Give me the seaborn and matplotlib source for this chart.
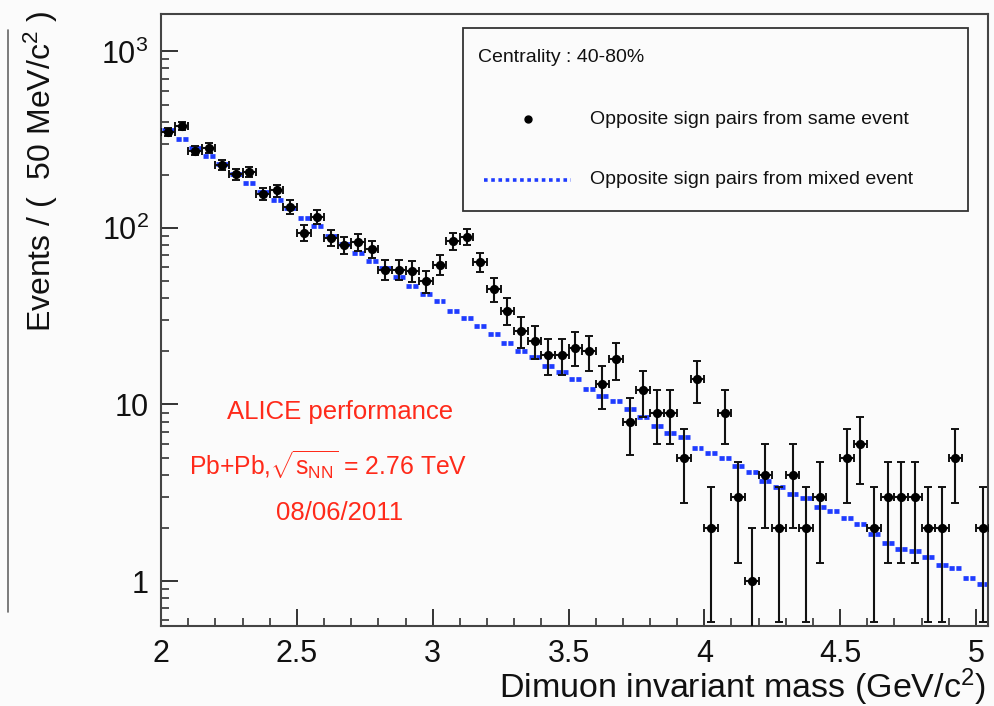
import numpy as np
import matplotlib
matplotlib.use("Agg")
import matplotlib.pyplot as plt
import seaborn as sns
from matplotlib.ticker import FixedLocator, FixedFormatter, MultipleLocator, LogLocator, NullFormatter
from matplotlib.patches import Rectangle
from matplotlib.lines import Line2D

# ---------------- data (50 MeV bins, centres) ----------------
mass = np.arange(2.025, 5.05, 0.05)

same_event = [350, 378, 274, 284, 228, 201, 208, 156, 163, 132,
              94, 116, 88, 80, 83, 76, 58, 58, 57, 50,
              62, 84, 89, 64, 45, 34, 26, 23, 19, 19,
              21, 20, 13, 18, 8, 12, 9, 9, 5, 14,
              2, 9, 3, 1, 4, 2, 4, 2, 3, 0,
              5, 6, 2, 3, 3, 3, 2, 2, 5, 0,
              2]

mixed_event = [359, 318, 283, 256, 230, 202, 179, 159, 144, 129,
               114, 102, 90, 81, 72.4, 65, 59, 52.6, 47, 42.5,
               38.3, 34, 31, 28, 25, 22.4, 20.2, 18.5, 16.6, 15.3,
               13.9, 12.3, 11.2, 10.4, 9.4, 8.5, 7.6, 6.9, 6.5, 5.7,
               5.3, 5.0, 4.47, 4.13, 3.69, 3.4, 3.11, 2.95, 2.64, 2.49,
               2.26, 2.1, 1.84, 1.65, 1.52, 1.47, 1.37, 1.23, 1.18, 1.04,
               0.96]

y_ticks = [1, 10, 100, 1000]
y_tick_labels = ["1", "10", r"$10^{2}$", r"$10^{3}$"]
x_ticks = [2, 2.5, 3, 3.5, 4, 4.5, 5]
x_tick_labels = ["2", "2.5", "3", "3.5", "4", "4.5", "5"]

legend_title = "Centrality : 40-80%"
label_same = "Opposite sign pairs from same event"
label_mixed = "Opposite sign pairs from mixed event"
red_lines = ["ALICE performance",
             r"Pb+Pb,$\sqrt{\mathrm{s}_{\mathrm{NN}}}$ = 2.76 TeV",
             "08/06/2011"]

# ---------------- style ----------------
sns.set_theme(style="ticks")
plt.rcParams["font.family"] = ["Liberation Sans", "DejaVu Sans"]
plt.rcParams["mathtext.fontset"] = "custom"
plt.rcParams["mathtext.rm"] = "Liberation Sans"
plt.rcParams["mathtext.it"] = "Liberation Sans:italic"
plt.rcParams["mathtext.bf"] = "Liberation Sans:bold"

fig = plt.figure(figsize=(9.95, 7.06), dpi=100)
fig.patch.set_facecolor("#fbfbfb")
ax = fig.add_axes([0.162, 0.1133, 0.831, 0.867])
ax.set_facecolor("#fbfbfb")

x = np.asarray(mass)
y = np.asarray(same_event, dtype=float)
ymask = np.where(y > 0, y, np.nan)
err = np.sqrt(y)
lower = np.minimum(err, y * 0.999)
blue = "#1f3cff"

# mixed event: dashed horizontal histogram segments
ax.hlines(mixed_event, x - 0.022, x + 0.022, colors=blue,
          linestyles=(0, (1.1, 0.35)), linewidth=3.4, zorder=2)

# same event: points with error bars
ax.errorbar(x, ymask, yerr=[np.where(y > 0, lower, np.nan), np.where(y > 0, err, np.nan)],
            xerr=0.025, fmt="none", ecolor="#111111", elinewidth=1.5,
            capsize=3.2, capthick=1.4, zorder=3)
sns.scatterplot(x=x, y=ymask, color="black", s=44, edgecolor="black",
                linewidth=0, zorder=5, ax=ax, legend=False)

ax.set_yscale("log")
ax.set_xlim(2.0, 5.045)
ax.set_ylim(0.556, 1630)

ax.yaxis.set_major_locator(FixedLocator(y_ticks))
ax.yaxis.set_major_formatter(FixedFormatter(y_tick_labels))
ax.yaxis.set_minor_locator(LogLocator(base=10, subs=np.arange(2, 10)))
ax.yaxis.set_minor_formatter(NullFormatter())
ax.xaxis.set_major_locator(FixedLocator(x_ticks))
ax.xaxis.set_major_formatter(FixedFormatter(x_tick_labels))
ax.xaxis.set_minor_locator(MultipleLocator(0.1))

ax.tick_params(which="major", direction="in", length=12, width=1.4,
               labelsize=22, color="#333333", labelcolor="#111111")
ax.tick_params(which="minor", direction="in", length=6, width=1.2, color="#333333")
ax.tick_params(axis="x", which="major", pad=9)
ax.tick_params(axis="y", which="major", pad=9)
for s in ax.spines.values():
    s.set_color("#444444")
    s.set_linewidth(1.5)
    s.set_visible(True)

ax.set_xlabel(r"Dimuon invariant mass (GeV/c$^{2}$)", fontsize=24.5, loc="right", color="#111111")
ax.xaxis.set_label_coords(0.9975, -0.066)
ax.set_ylabel(r"Events / (  50 MeV/c$^{2}$ )", fontsize=23, loc="top", color="#111111")
ax.yaxis.set_label_coords(-0.122, 1.005)

# legend box (drawn manually)
ax.add_patch(Rectangle((0.365, 0.678), 0.611, 0.299, transform=ax.transAxes,
                       fill=False, edgecolor="#333333", linewidth=1.3, zorder=6))
ax.text(0.383, 0.928, legend_title, transform=ax.transAxes, fontsize=14,
        va="center", ha="left", color="#111111")
ax.add_line(Line2D([0.444], [0.828], transform=ax.transAxes, marker="o",
                   markersize=5, color="black", linestyle="none"))
ax.text(0.519, 0.828, label_same, transform=ax.transAxes, fontsize=14,
        va="center", ha="left", color="#111111")
ax.add_line(Line2D([0.391, 0.496], [0.729, 0.729], transform=ax.transAxes,
                   color=blue, linewidth=2.6, linestyle=(0, (1.0, 1.0))))
ax.text(0.519, 0.729, label_mixed, transform=ax.transAxes, fontsize=14,
        va="center", ha="left", color="#111111")

# red annotation
red = "#ff2a1a"
for txt, (tx, ty), fs in zip(red_lines, [(0.216, 0.350), (0.202, 0.263), (0.216, 0.185)],
                             [18.5, 17.8, 18.5]):
    ax.text(tx, ty, txt, transform=ax.transAxes, fontsize=fs, color=red,
            ha="center", va="center")

# remnant of neighbouring panel at far left
fig.add_artist(Line2D([8 / 995, 8 / 995], [1 - 30 / 706, 1 - 612 / 706],
                      color="#666666", linewidth=1.2))

fig.savefig("out.png", dpi=100, facecolor=fig.get_facecolor())
